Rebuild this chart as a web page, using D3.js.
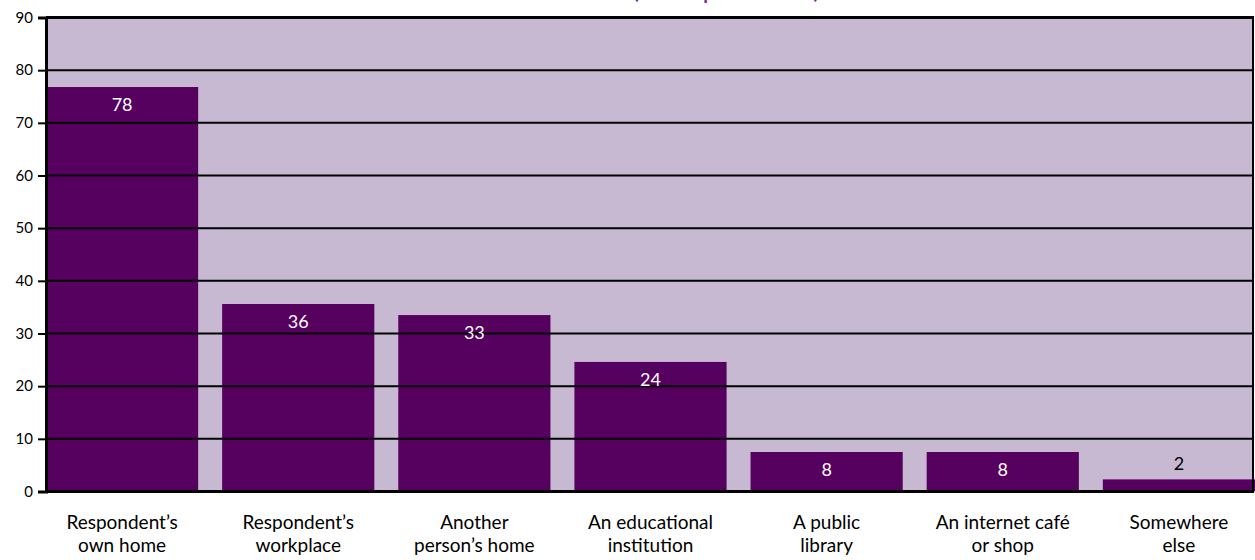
<!DOCTYPE html>
<html>
<head>
<meta charset="utf-8">
<script src="https://cdn.jsdelivr.net/npm/d3@7.9.0/dist/d3.min.js"></script>
<style>
  body { margin: 0; background: #fff; }
  svg { display: block; font-family: Lato, "Open Sans", sans-serif; }
</style>
</head>
<body>
<svg id="chart" width="1255" height="560"></svg>
<script>
// DATA
const categories = [
  ['Respondent’s', 'own home'],
  ['Respondent’s', 'workplace'],
  ['Another', 'person’s home'],
  ['An educational', 'institution'],
  ['A public', 'library'],
  ['An internet café', 'or shop'],
  ['Somewhere', 'else']
];
const values = [76.8, 35.6, 33.5, 24.6, 7.5, 7.5, 2.3];
const valueLabels = ['78', '36', '33', '24', '8', '8', '2'];
const yTicks = [0, 10, 20, 30, 40, 50, 60, 70, 80, 90];
const title = '(% respondents)';

const svg = d3.select('#chart');
const plotLeft = 46, plotRight = 1253, plotTop = 17.5, plotBottom = 491.5;

const x = d3.scaleBand()
  .domain(d3.range(categories.length))
  .range([plotLeft, 1255])
  .paddingInner(0.136)
  .paddingOuter(0);

const y = d3.scaleLinear()
  .domain([0, 90])
  .range([plotBottom, plotTop]);

// title (the reference crops it at the top edge)
svg.append('text')
  .attr('x', 726)
  .attr('y', -2.5)
  .attr('text-anchor', 'middle')
  .attr('fill', '#7030a0')
  .attr('font-size', 27)
  .text(title);

// plot background
svg.append('rect')
  .attr('x', plotLeft).attr('y', plotTop)
  .attr('width', plotRight - plotLeft).attr('height', plotBottom - plotTop)
  .attr('fill', '#c8b9d2');

// bars
svg.selectAll('rect.bar')
  .data(values)
  .join('rect')
  .attr('class', 'bar')
  .attr('x', (d, i) => x(i))
  .attr('width', x.bandwidth())
  .attr('y', d => y(d))
  .attr('height', d => y(0) - y(d))
  .attr('fill', '#560060');

// gridlines over the bars
svg.selectAll('line.grid')
  .data(yTicks.filter(t => t > 0 && t < 90))
  .join('line')
  .attr('class', 'grid')
  .attr('x1', plotLeft).attr('x2', plotRight)
  .attr('y1', d => y(d)).attr('y2', d => y(d))
  .attr('stroke', '#000')
  .attr('stroke-width', 2);

// border: top + right
svg.append('line')
  .attr('x1', plotLeft).attr('x2', plotRight + 1)
  .attr('y1', plotTop).attr('y2', plotTop)
  .attr('stroke', '#000').attr('stroke-width', 3);
svg.append('line')
  .attr('x1', plotRight).attr('x2', plotRight)
  .attr('y1', plotTop).attr('y2', plotBottom)
  .attr('stroke', '#000').attr('stroke-width', 2);
// baseline
svg.append('line')
  .attr('x1', plotLeft).attr('x2', plotRight + 1)
  .attr('y1', plotBottom).attr('y2', plotBottom)
  .attr('stroke', '#000').attr('stroke-width', 3);

// y axis
const yAxis = svg.append('g')
  .attr('transform', `translate(${plotLeft},0)`)
  .call(d3.axisLeft(y).tickValues(yTicks).tickSize(8).tickPadding(5));
yAxis.select('.domain')
  .attr('stroke', '#000').attr('stroke-width', 3);
yAxis.selectAll('.tick line')
  .attr('stroke', '#000').attr('stroke-width', 2);
yAxis.selectAll('.tick text')
  .attr('font-size', 15)
  .attr('font-family', 'Lato, sans-serif')
  .attr('fill', '#000');

// value labels
svg.selectAll('text.val')
  .data(values)
  .join('text')
  .attr('class', 'val')
  .attr('x', (d, i) => x(i) + x.bandwidth() / 2)
  .attr('y', d => (y(0) - y(d) < 30 ? y(d) - 9 : y(d) + 24))
  .attr('text-anchor', 'middle')
  .attr('font-size', 18)
  .attr('fill', d => (y(0) - y(d) < 30 ? '#000' : '#fff'))
  .text((d, i) => valueLabels[i]);

// category labels
const cat = svg.selectAll('text.cat')
  .data(categories)
  .join('text')
  .attr('class', 'cat')
  .attr('text-anchor', 'middle')
  .attr('font-size', 19)
  .attr('fill', '#000');
cat.each(function (d, i) {
  const cx = x(i) + x.bandwidth() / 2;
  d3.select(this).selectAll('tspan')
    .data(d)
    .join('tspan')
    .attr('x', cx)
    .attr('y', (t, j) => 529 + j * 23)
    .text(t => t);
});
</script>
</body>
</html>
